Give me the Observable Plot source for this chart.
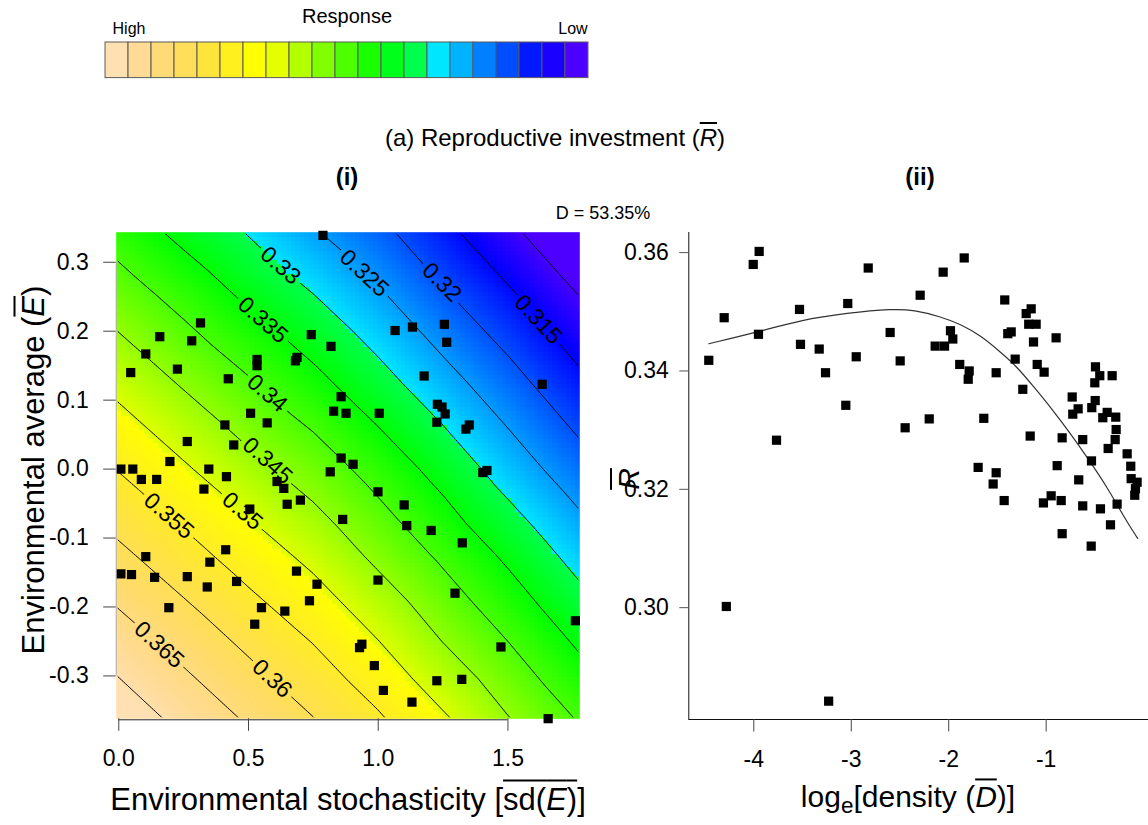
<!DOCTYPE html>
<html><head><meta charset="utf-8">
<script src="https://cdn.jsdelivr.net/npm/d3@7"></script>
<script src="https://cdn.jsdelivr.net/npm/@observablehq/plot@0.6"></script>
<style>
html,body{margin:0;padding:0;background:#fff;overflow:hidden;width:1148px;height:825px}
#root{position:relative;width:1148px;height:825px;font-family:"Liberation Sans",Arial,Helvetica,sans-serif;color:#000}
.abs{position:absolute;white-space:nowrap;line-height:1}
.ov{text-decoration:overline;text-decoration-thickness:1.5px}
svg.plt{position:absolute;overflow:visible}
</style></head><body><div id="root"></div>
<script>
const FONT = '"Liberation Sans",Arial,Helvetica,sans-serif';

// ---------- legend (rev(topo.colors(21))) ----------
const legendColors = ["#FFE0B3","#FFDB95","#FFDB77","#FFDE59","#FFE53B","#FFF01E","#FFFF00","#E6FF00","#B3FF00","#80FF00","#4DFF00","#1AFF00","#00FF1A","#00FF4D","#00E6FF","#00B3FF","#0080FF","#004CFF","#0019FF","#1900FF","#4C00FF"];

// ---------- panel (i): fitted surface ----------
const gridX = [-0.02, 0.25, 0.5, 0.75, 1.0, 1.25, 1.5, 1.80];
const gridY = [0.35, 0.25, 0.125, 0, -0.125, -0.25, -0.37];
const gridR = [
  [0.3379,0.3334,0.3294,0.3251,0.3210,0.3160,0.3108,0.3047],
  [0.3428,0.3384,0.3342,0.3302,0.3258,0.3207,0.3159,0.3095],
  [0.3489,0.3445,0.3405,0.3364,0.3318,0.3269,0.3219,0.3156],
  [0.3551,0.3506,0.3465,0.3427,0.3381,0.3332,0.3278,0.3216],
  [0.3614,0.3569,0.3527,0.3487,0.3439,0.3391,0.3341,0.3277],
  [0.3677,0.3632,0.3589,0.3548,0.3501,0.3449,0.3400,0.3337],
  [0.3738,0.3690,0.3648,0.3605,0.3560,0.3510,0.3456,0.3395]
];
const contourLevels = [0.31,0.315,0.32,0.325,0.33,0.335,0.34,0.345,0.35,0.355,0.36,0.365,0.37];
const contourLabelText = ["0.315","0.32","0.325","0.33","0.335","0.34","0.345","0.35","0.355","0.36","0.365"];
const contourLabelX    = [1.617, 1.245, 0.946, 0.623, 0.555, 0.572, 0.573, 0.476, 0.193, 0.591, 0.155];
const contourLabelY    = [0.217, 0.271, 0.284, 0.295, 0.216, 0.110, 0.012, -0.061, -0.068, -0.304, -0.255];
const contourLabelAngle= [47, 45, 43, 41, 41, 41, 42, 41, 41, 43, 42];

// observed points, panel (i)
const sdE = [0.787,0.315,0.158,0.281,0.104,0.046,0.226,0.422,0.533,0.533,0.742,0.818,0.687,0.681,0.857,0.828,0.876,0.508,0.572,0.409,0.264,0.443,0.197,0.857,0.008,0.054,0.347,0.815,0.087,0.146,0.415,0.328,0.610,0.636,0.505,0.649,0.700,0.863,0.104,0.412,0.351,0.008,0.049,0.138,0.264,0.341,0.454,0.685,0.764,0.193,0.550,0.640,0.735,0.524,1.065,1.132,1.255,1.264,1.177,1.632,1.004,1.228,1.246,1.258,1.226,1.351,1.338,0.903,1.403,1.419,0.999,1.100,1.110,1.204,1.324,0.999,1.296,1.760,0.937,0.928,1.473,0.985,1.226,1.322,1.020,1.130,1.655];
const meanE = [0.339,0.212,0.192,0.186,0.167,0.140,0.145,0.131,0.159,0.150,0.195,0.178,0.162,0.157,0.105,0.084,0.081,0.081,0.067,0.064,0.040,0.035,0.011,0.016,0.000,0.000,0.000,-0.004,-0.015,-0.015,-0.011,-0.029,-0.018,-0.028,-0.058,-0.051,-0.045,-0.073,-0.127,-0.117,-0.135,-0.152,-0.153,-0.157,-0.156,-0.171,-0.163,-0.148,-0.167,-0.201,-0.201,-0.206,-0.191,-0.225,0.201,0.206,0.210,0.184,0.135,0.123,0.081,0.094,0.090,0.080,0.068,0.064,0.058,0.007,-0.005,-0.002,-0.033,-0.052,-0.082,-0.089,-0.107,-0.161,-0.180,-0.220,-0.254,-0.259,-0.258,-0.285,-0.307,-0.305,-0.321,-0.338,-0.362];

// ---------- panel (ii) ----------
const logD = [-4.462,-4.304,-4.006,-3.945,-3.952,-3.767,-3.531,-3.521,-3.329,-3.264,-3.056,-3.036,-2.949,-2.826,-1.841,-2.057,-2.293,-1.425,-2.601,-1.982,-1.958,-2.139,-2.043,-2.498,-1.887,-1.790,-1.800,-1.513,-1.318,-1.240,-1.205,-1.154,-1.179,-1.103,-1.394,-1.359,-1.130,-0.898,-1.092,-1.021,-0.494,-0.450,-0.501,-0.323,-0.733,-0.672,-0.727,-0.497,-0.532,-0.374,-0.419,-0.286,-0.282,-0.292,-0.364,-0.169,-0.132,-0.128,-0.067,-0.084,-0.091,-2.200,-2.447,-1.640,-1.164,-0.836,-0.625,-0.535,-0.887,-0.666,-1.698,-1.513,-1.544,-1.431,-1.028,-0.949,-0.846,-0.625,-0.443,-0.272,-4.282,-3.232,-0.836,-0.538,-0.340];
const rBar = [0.3418,0.3490,0.3580,0.3602,0.3462,0.3283,0.3504,0.3445,0.3437,0.3397,0.3342,0.3514,0.3424,0.3574,0.3591,0.3567,0.3528,0.3520,0.3465,0.3468,0.3454,0.3442,0.3442,0.3417,0.3411,0.3400,0.3386,0.3397,0.3420,0.3369,0.3497,0.3505,0.3479,0.3479,0.3463,0.3466,0.3449,0.3456,0.3411,0.3398,0.3407,0.3392,0.3380,0.3392,0.3356,0.3336,0.3327,0.3350,0.3338,0.3330,0.3321,0.3322,0.3301,0.3284,0.3269,0.3260,0.3239,0.3218,0.3212,0.3201,0.3190,0.3319,0.3304,0.3320,0.3290,0.3287,0.3284,0.3248,0.3240,0.3216,0.3237,0.3228,0.3209,0.3181,0.3177,0.3189,0.3181,0.3172,0.3167,0.3175,0.3002,0.2842,0.3125,0.3104,0.3140];
const fitLogD = [-4.462,-3.952,-3.521,-3.042,-2.564,-2.358,-2.085,-1.879,-1.674,-1.469,-1.298,-1.127,-0.956,-0.751,-0.579,-0.374,-0.187,-0.061];
const fitR    = [0.3446,0.3466,0.3486,0.3498,0.3505,0.3503,0.3492,0.3479,0.3460,0.3432,0.3407,0.3373,0.3339,0.3294,0.3254,0.3204,0.3149,0.3117];

// ---------- tables ----------
const surface = [];
gridY.forEach((y, j) => gridX.forEach((x, i) => surface.push({x, y, r: gridR[j][i]})));
const labels = contourLabelText.map((t, i) => ({label: t, x: contourLabelX[i], y: contourLabelY[i], angle: contourLabelAngle[i]}));
const ptsI = sdE.map((x, i) => ({x, y: meanE[i]}));
const ptsII = logD.map((x, i) => ({x, y: rBar[i]}));
const fit = fitLogD.map((x, i) => ({x, y: fitR[i]}));

// topo.colors-like continuous palette (low -> violet, high -> pale peach)
function topo(t) {
  t = Math.max(0, Math.min(1, t));
  let h, s = 1;
  if (t < 1/3) h = 258 - t * 3 * 72;
  else if (t < 2/3) h = 138 - (t - 1/3) * 3 * 72;
  else { const u = (t - 2/3) * 3; h = 60 - u * 24; s = 1 - 0.7 * u; }
  return d3.hsl(h, 1, 1 - s / 2).formatHex();
}

const root = document.getElementById("root");
function place(svg, left, top) {
  svg.classList.add("plt");
  svg.style.left = left + "px"; svg.style.top = top + "px";
  root.appendChild(svg);
}
function text(html, cx, cy, size, extra = "") {
  const d = document.createElement("div");
  d.className = "abs"; d.innerHTML = html;
  d.style.left = cx + "px"; d.style.top = cy + "px"; d.style.fontSize = size + "px";
  d.style.transform = "translate(-50%,-50%)" + extra;
  root.appendChild(d);
  return d;
}

// legend
const legend = Plot.plot({
  width: 491.2, height: 37.6, margin: 1,
  x: {type: "band", domain: d3.range(legendColors.length), padding: 0, axis: null},
  style: {background: "transparent"},
  marks: [Plot.cell(legendColors, {x: (d, i) => i, fill: d => d, stroke: "#5a5a5a", strokeWidth: 1})]
});
place(legend, 100.8, 40.7);

// panel (i)
const M1 = {left: 115.7, right: 20.7, top: 41.7, bottom: 106.7, width: 600, height: 635};
const xDomI = [-0.010, 1.777], yDomI = [-0.3622, 0.3436];
const p1 = Plot.plot({
  width: M1.width, height: M1.height,
  marginLeft: M1.left, marginRight: M1.right, marginTop: M1.top, marginBottom: M1.bottom,
  x: {domain: xDomI},
  y: {domain: yDomI},
  color: {type: "linear", domain: [0.3095, 0.371], interpolate: topo},
  style: {fontFamily: FONT, fontSize: "23px", background: "transparent"},
  marks: [
    Plot.raster(surface, {x: "x", y: "y", fill: "r", interpolate: "barycentric", pixelSize: 4.6, imageRendering: "pixelated"}),
    Plot.contour(surface, {x: "x", y: "y", value: "r", thresholds: contourLevels, interpolate: "barycentric", stroke: "#000", strokeWidth: 1, fill: "none"}),
    Plot.text(labels, {x: "x", y: "y", text: "label", rotate: "angle", fontSize: 23, fill: "#000"}),
    Plot.dot(ptsI, {x: "x", y: "y", symbol: "square", r: 5.2, fill: "#000", stroke: null}),
    Plot.ruleY([yDomI[0]], {x1: 0, x2: 1.5, stroke: "#222", dy: 1}),
    Plot.ruleX([xDomI[0]], {y1: -0.3, y2: 0.3, stroke: "#aaa"}),
    Plot.axisX({ticks: [0, 0.5, 1, 1.5], tickFormat: d => d.toFixed(1), tickSize: 12.5, tickPadding: 18.5, label: null, stroke: "#444", fontSize: 23}),
    Plot.axisY({ticks: [-0.3, -0.2, -0.1, 0, 0.1, 0.2, 0.3], tickFormat: d => d.toFixed(1), tickSize: 12.5, tickPadding: 15, label: null, stroke: "#444", fontSize: 23})
  ]
});
place(p1, 0, 190);

// hide contour outline along the frame and cut gaps under the labels
(function addGaps(svg) {
  const NS = "http://www.w3.org/2000/svg";
  const cg = svg.querySelector('g[aria-label="contour"]');
  const texts = svg.querySelectorAll('g[aria-label="text"] text');
  if (!cg) return;
  const fw = M1.width - M1.left - M1.right, fh = M1.height - M1.top - M1.bottom, inset = 1.5;
  const mask = document.createElementNS(NS, "mask");
  mask.setAttribute("id", "gapmask");
  mask.setAttribute("maskUnits", "userSpaceOnUse");
  mask.setAttribute("x", 0); mask.setAttribute("y", 0);
  mask.setAttribute("width", M1.width); mask.setAttribute("height", M1.height);
  const bg = document.createElementNS(NS, "rect");
  bg.setAttribute("x", M1.left + inset); bg.setAttribute("y", M1.top + inset);
  bg.setAttribute("width", fw - 2 * inset); bg.setAttribute("height", fh - 2 * inset);
  bg.setAttribute("fill", "white");
  mask.appendChild(bg);
  texts.forEach(t => {
    const bb = t.getBBox();
    const r = document.createElementNS(NS, "rect");
    r.setAttribute("x", bb.x - 4); r.setAttribute("y", bb.y + 1);
    r.setAttribute("width", bb.width + 8); r.setAttribute("height", Math.max(0, bb.height - 2));
    r.setAttribute("fill", "black");
    const tr = t.getAttribute("transform"); if (tr) r.setAttribute("transform", tr);
    mask.appendChild(r);
  });
  const defs = document.createElementNS(NS, "defs");
  defs.appendChild(mask);
  svg.insertBefore(defs, svg.firstChild);
  cg.setAttribute("mask", "url(#gapmask)");
})(p1);

// panel (ii)
const xDomII = [-4.667, 0.05], yDomII = [0.2811, 0.3634];
const p2 = Plot.plot({
  width: 548, height: 635,
  marginLeft: 88.3, marginRight: 0, marginTop: 42, marginBottom: 106,
  x: {domain: xDomII},
  y: {domain: yDomII},
  style: {fontFamily: FONT, fontSize: "23px", background: "transparent"},
  marks: [
    Plot.ruleY([yDomII[0]], {stroke: "#111"}),
    Plot.ruleX([xDomII[0]], {stroke: "#111"}),
    Plot.line(fit, {x: "x", y: "y", curve: "basis", stroke: "#333", strokeWidth: 1.2}),
    Plot.dot(ptsII, {x: "x", y: "y", symbol: "square", r: 5.2, fill: "#000", stroke: null}),
    Plot.axisX({ticks: [-4, -3, -2, -1], tickFormat: d => String(d), tickSize: 12.5, tickPadding: 18.5, label: null, stroke: "#444", fontSize: 23}),
    Plot.axisY({ticks: [0.30, 0.32, 0.34, 0.36], tickFormat: d => d.toFixed(2), tickSize: 9, tickPadding: 11, label: null, stroke: "#555", fontSize: 23})
  ]
});
place(p2, 600, 190);

// texts
text("Response", 347, 16, 20);
text("High", 129, 29, 16);
text("Low", 573, 29, 16);
text('(a) Reproductive investment (<span class="ov"><i>R</i></span>)', 555, 138, 24);
text("<b>(i)</b>", 347, 177, 24);
text("<b>(ii)</b>", 920, 177, 24);
text("D = 53.35%", 603, 213, 18);
text('Environmental stochasticity [<span class="ov">sd(<i>E</i>)</span>]', 348, 799, 31);
text('Environmental average (<span class="ov"><i>E</i></span>)', 33, 470, 31, " rotate(-90deg)");
text('log<sub style="font-size:0.75em;vertical-align:-0.25em">e</sub>[density (<span class="ov"><i>D</i></span>)]', 908, 800, 30);
text('<span class="ov"><i>R</i></span>', 629, 479, 30, " rotate(-90deg)");
</script></body></html>
